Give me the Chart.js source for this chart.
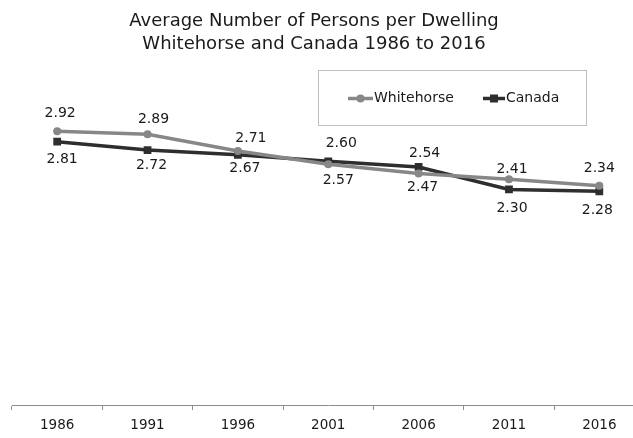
<!DOCTYPE html>
<html>
<head>
<meta charset="utf-8">
<script src="https://cdn.jsdelivr.net/npm/chart.js@4"></script>
<style>
  html, body { margin: 0; padding: 0; background: #fff; overflow: hidden; width: 633px; height: 438px; }
  canvas { display: block; }
</style>
</head>
<body>
<canvas id="c" width="650" height="438"></canvas>
<script>
// ---- data ----
const years = ['1986', '1991', '1996', '2001', '2006', '2011', '2016'];
const whitehorse = [2.92, 2.89, 2.71, 2.57, 2.47, 2.41, 2.34];
const canada = [2.81, 2.72, 2.67, 2.60, 2.54, 2.30, 2.28];
const titleLines = ['Average Number of Persons per Dwelling', 'Whitehorse and Canada 1986 to 2016'];
const seriesNames = ['Whitehorse', 'Canada'];

// ---- label placement (pixel offsets from each point, styling only) ----
const whLabelOffsets = [[3, -18], [6, -15], [13, -13], [10, 16], [4, 14], [3, -10], [0, -17]];
const caLabelOffsets = [[5, 18], [4, 15], [7, 14], [13, -18], [6, -14], [3, 19], [-2, 19]];

const FONT = "'DejaVu Sans', Verdana, sans-serif";
const WH_COLOR = '#878787';
const CA_COLOR = '#2e2e2e';

const titlePlugin = {
  id: 'customTitle',
  afterDraw(chart) {
    const ctx = chart.ctx;
    ctx.save();
    ctx.font = '18px ' + FONT;
    ctx.fillStyle = '#1a1a1a';
    ctx.textAlign = 'center';
    ctx.textBaseline = 'middle';
    ctx.fillText(titleLines[0], 314, 21);
    ctx.fillText(titleLines[1], 314, 44.5);
    ctx.restore();
  }
};

const labelPlugin = {
  id: 'valueLabels',
  afterDatasetsDraw(chart) {
    const ctx = chart.ctx;
    ctx.save();
    ctx.font = '14px ' + FONT;
    ctx.fillStyle = '#1a1a1a';
    ctx.textAlign = 'center';
    ctx.textBaseline = 'middle';
    const offs = [whLabelOffsets, caLabelOffsets];
    chart.data.datasets.forEach((ds, di) => {
      const meta = chart.getDatasetMeta(di);
      meta.data.forEach((pt, i) => {
        const o = offs[di][i];
        ctx.fillText(ds.data[i].toFixed(2), pt.x + o[0], pt.y + o[1]);
      });
    });
    ctx.restore();
  }
};

const legendBoxPlugin = {
  id: 'legendBox',
  afterDraw(chart) {
    const ctx = chart.ctx;
    ctx.save();
    ctx.strokeStyle = '#bfbfbf';
    ctx.lineWidth = 1;
    ctx.strokeRect(318.5, 70.5, 268, 55);
    const y = 98.5;
    // Whitehorse
    ctx.strokeStyle = WH_COLOR;
    ctx.lineWidth = 3.5;
    ctx.beginPath(); ctx.moveTo(348, y); ctx.lineTo(373, y); ctx.stroke();
    ctx.fillStyle = WH_COLOR;
    ctx.beginPath(); ctx.arc(360.5, y, 4, 0, Math.PI * 2); ctx.fill();
    // Canada
    ctx.strokeStyle = CA_COLOR;
    ctx.beginPath(); ctx.moveTo(483, y); ctx.lineTo(505, y); ctx.stroke();
    ctx.fillStyle = CA_COLOR;
    ctx.fillRect(490, y - 4, 8, 8);
    ctx.font = '14px ' + FONT;
    ctx.fillStyle = '#1a1a1a';
    ctx.textAlign = 'left';
    ctx.textBaseline = 'middle';
    ctx.fillText(seriesNames[0], 374, y);
    ctx.fillText(seriesNames[1], 506, y);
    ctx.restore();
  }
};

new Chart(document.getElementById('c'), {
  type: 'line',
  data: {
    labels: years,
    datasets: [
      {
        label: seriesNames[0],
        data: whitehorse,
        borderColor: WH_COLOR,
        backgroundColor: WH_COLOR,
        borderWidth: 3.5,
        pointStyle: 'circle',
        pointRadius: 4,
        pointBorderWidth: 0,
        tension: 0
      },
      {
        label: seriesNames[1],
        data: canada,
        borderColor: CA_COLOR,
        backgroundColor: CA_COLOR,
        borderWidth: 3.5,
        pointStyle: 'rect',
        pointRadius: 5.5,
        pointBorderWidth: 0,
        tension: 0
      }
    ]
  },
  options: {
    responsive: false,
    animation: false,
    devicePixelRatio: 1,
    layout: { padding: { left: 12, right: 0, top: 77, bottom: 0 } },
    plugins: {
      legend: { display: false },
      tooltip: { enabled: false },
      title: { display: false }
    },
    scales: {
      x: {
        offset: true,
        grid: { display: true, offset: true, drawOnChartArea: false, drawTicks: true, tickLength: 5, color: '#8c8c8c' },
        border: { display: true, color: '#8c8c8c', width: 1 },
        ticks: { color: '#1a1a1a', font: { family: FONT, size: 13.5 }, padding: 7, maxRotation: 0 },
        afterFit(scale) { scale.height = 33; }
      },
      y: {
        display: false,
        min: 0,
        max: 3.5
      }
    }
  },
  plugins: [titlePlugin, labelPlugin, legendBoxPlugin]
});
</script>
</body>
</html>
